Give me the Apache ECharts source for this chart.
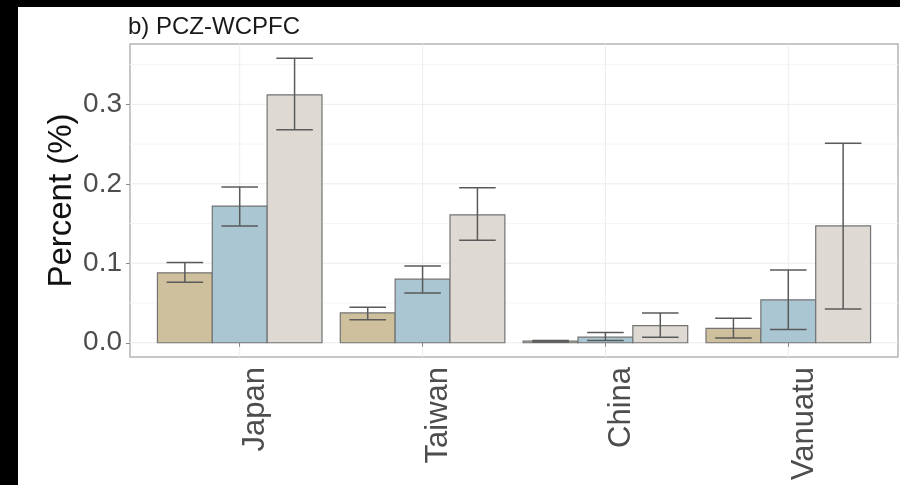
<!DOCTYPE html>
<html>
<head>
<meta charset="utf-8">
<script src="https://cdn.jsdelivr.net/npm/echarts@6/dist/echarts.min.js"></script>
<style>
html,body{margin:0;padding:0;background:#000;width:900px;height:485px;overflow:hidden;}
#c{position:absolute;left:18px;top:7px;width:882px;height:478px;background:#fff;}
</style>
</head>
<body>
<div id="c"></div>
<script>
// ---- data ----
const categories = ['Japan', 'Taiwan', 'China', 'Vanuatu'];
const seriesNames = ['Group 1', 'Group 2', 'Group 3'];
const g1Mean = [0.088, 0.0375, 0.002, 0.018];
const g1Low  = [0.076, 0.029, 0.001, 0.006];
const g1High = [0.101, 0.0446, 0.003, 0.031];
const g2Mean = [0.172, 0.080, 0.007, 0.054];
const g2Low  = [0.147, 0.0625, 0.003, 0.0167];
const g2High = [0.196, 0.0967, 0.013, 0.0917];
const g3Mean = [0.312, 0.161, 0.0217, 0.147];
const g3Low  = [0.268, 0.129, 0.007, 0.0425];
const g3High = [0.358, 0.195, 0.0375, 0.251];
const yTickLabels = [0, 0.1, 0.2, 0.3];
const yGridMinor = [0.05, 0.15, 0.25, 0.35];
const colors = ['#cfc09d', '#a9c6d2', '#dedad3'];

const FONT = "'Liberation Sans', Arial, sans-serif";
const catPos = categories.map((c, i) => i + 1);
const allHigh = g1High.concat(g2High, g3High);
const yMax = Math.max.apply(null, allHigh);
const pad = yMax * 0.05;
const barW = 0.3, whisk = 0.2;

function mk(mean, low, high) {
  return catPos.map((x, i) => [x, mean[i], low[i], high[i]]);
}
const groups = [mk(g1Mean, g1Low, g1High), mk(g2Mean, g2Low, g2High), mk(g3Mean, g3Low, g3High)];

function barRender(offset) {
  return function (params, api) {
    const x = api.value(0) + offset, v = api.value(1), lo = api.value(2), hi = api.value(3);
    const a = api.coord([x - barW / 2, v]);
    const b = api.coord([x + barW / 2, 0]);
    const top = api.coord([x, hi]), bot = api.coord([x, lo]);
    const wl = api.coord([x - whisk / 2, hi])[0], wr = api.coord([x + whisk / 2, hi])[0];
    const ls = {stroke: '#5a5a5a', lineWidth: 1.5};
    return {
      type: 'group',
      children: [
        {type: 'rect', shape: {x: a[0], y: a[1], width: b[0] - a[0], height: b[1] - a[1]},
          style: {fill: api.visual('color'), stroke: '#737373', lineWidth: 1.2}},
        {type: 'line', shape: {x1: top[0], y1: top[1], x2: bot[0], y2: bot[1]}, style: ls},
        {type: 'line', shape: {x1: wl, y1: top[1], x2: wr, y2: top[1]}, style: ls},
        {type: 'line', shape: {x1: wl, y1: bot[1], x2: wr, y2: bot[1]}, style: ls}
      ]
    };
  };
}

function hGrid(color) {
  return function (params, api) {
    const y = api.coord([1, api.value(1)])[1];
    const cs = params.coordSys;
    return {type: 'line', shape: {x1: cs.x, y1: y, x2: cs.x + cs.width, y2: y},
      style: {stroke: color, lineWidth: 1}};
  };
}
function vGrid(params, api) {
  const x = api.coord([api.value(0), 0])[0];
  const cs = params.coordSys;
  return {type: 'line', shape: {x1: x, y1: cs.y, x2: x, y2: cs.y + cs.height},
    style: {stroke: '#ececec', lineWidth: 1}};
}

const chart = echarts.init(document.getElementById('c'), null, {renderer: 'canvas'});
const series = [
  {type: 'custom', name: 'minor', renderItem: hGrid('#f5f5f5'), data: yGridMinor.map(v => [1, v]), z: 0, silent: true},
  {type: 'custom', name: 'major', renderItem: hGrid('#ececec'), data: yTickLabels.map(v => [1, v]), z: 0, silent: true},
  {type: 'custom', name: 'vgrid', renderItem: vGrid, data: catPos.map(x => [x, 0]), z: 0, silent: true}
];
groups.forEach((d, s) => {
  series.push({
    type: 'custom', name: seriesNames[s], renderItem: barRender((s - 1) * barW),
    data: d, itemStyle: {color: colors[s]}, z: 2,
    encode: {x: 0, y: [1, 2, 3]}
  });
});

chart.setOption({
  animation: false,
  backgroundColor: '#fff',
  textStyle: {fontFamily: FONT},
  title: {
    text: 'b) PCZ-WCPFC', left: 105, top: 3,
    textStyle: {fontFamily: FONT, fontSize: 24, fontWeight: 'normal', color: '#1a1a1a'}
  },
  grid: {left: 112, right: 2, top: 37, bottom: 128, outerBoundsMode: 'none', containLabel: false,
    show: true, borderColor: '#b5b5b5', borderWidth: 1.5, backgroundColor: 'transparent'},
  xAxis: {
    type: 'value', min: 0.4, max: 4.6,
    axisLine: {show: false},
    splitLine: {show: false},
    axisTick: {show: true, length: 4, lineStyle: {color: '#8a8a8a'}, customValues: catPos},
    axisLabel: {
      customValues: catPos, rotate: 90, margin: 10,
      fontFamily: FONT, fontSize: 31, color: '#4d4d4d',
      verticalAlign: 'top', lineHeight: 32,
      formatter: v => categories[Math.round(v) - 1]
    }
  },
  yAxis: {
    type: 'value', min: -pad, max: yMax + pad,
    name: 'Percent (%)', nameLocation: 'middle', nameRotate: 90, nameGap: 52,
    nameMoveOverlap: false,
    nameTextStyle: {fontFamily: FONT, fontSize: 33, color: '#111'},
    axisLine: {show: false},
    splitLine: {show: false},
    axisTick: {show: true, length: 4, lineStyle: {color: '#8a8a8a'}, customValues: yTickLabels},
    axisLabel: {
      customValues: yTickLabels, margin: 8,
      fontFamily: FONT, fontSize: 28, color: '#4d4d4d',
      formatter: v => v.toFixed(1)
    }
  },
  series: series
});
</script>
</body>
</html>
